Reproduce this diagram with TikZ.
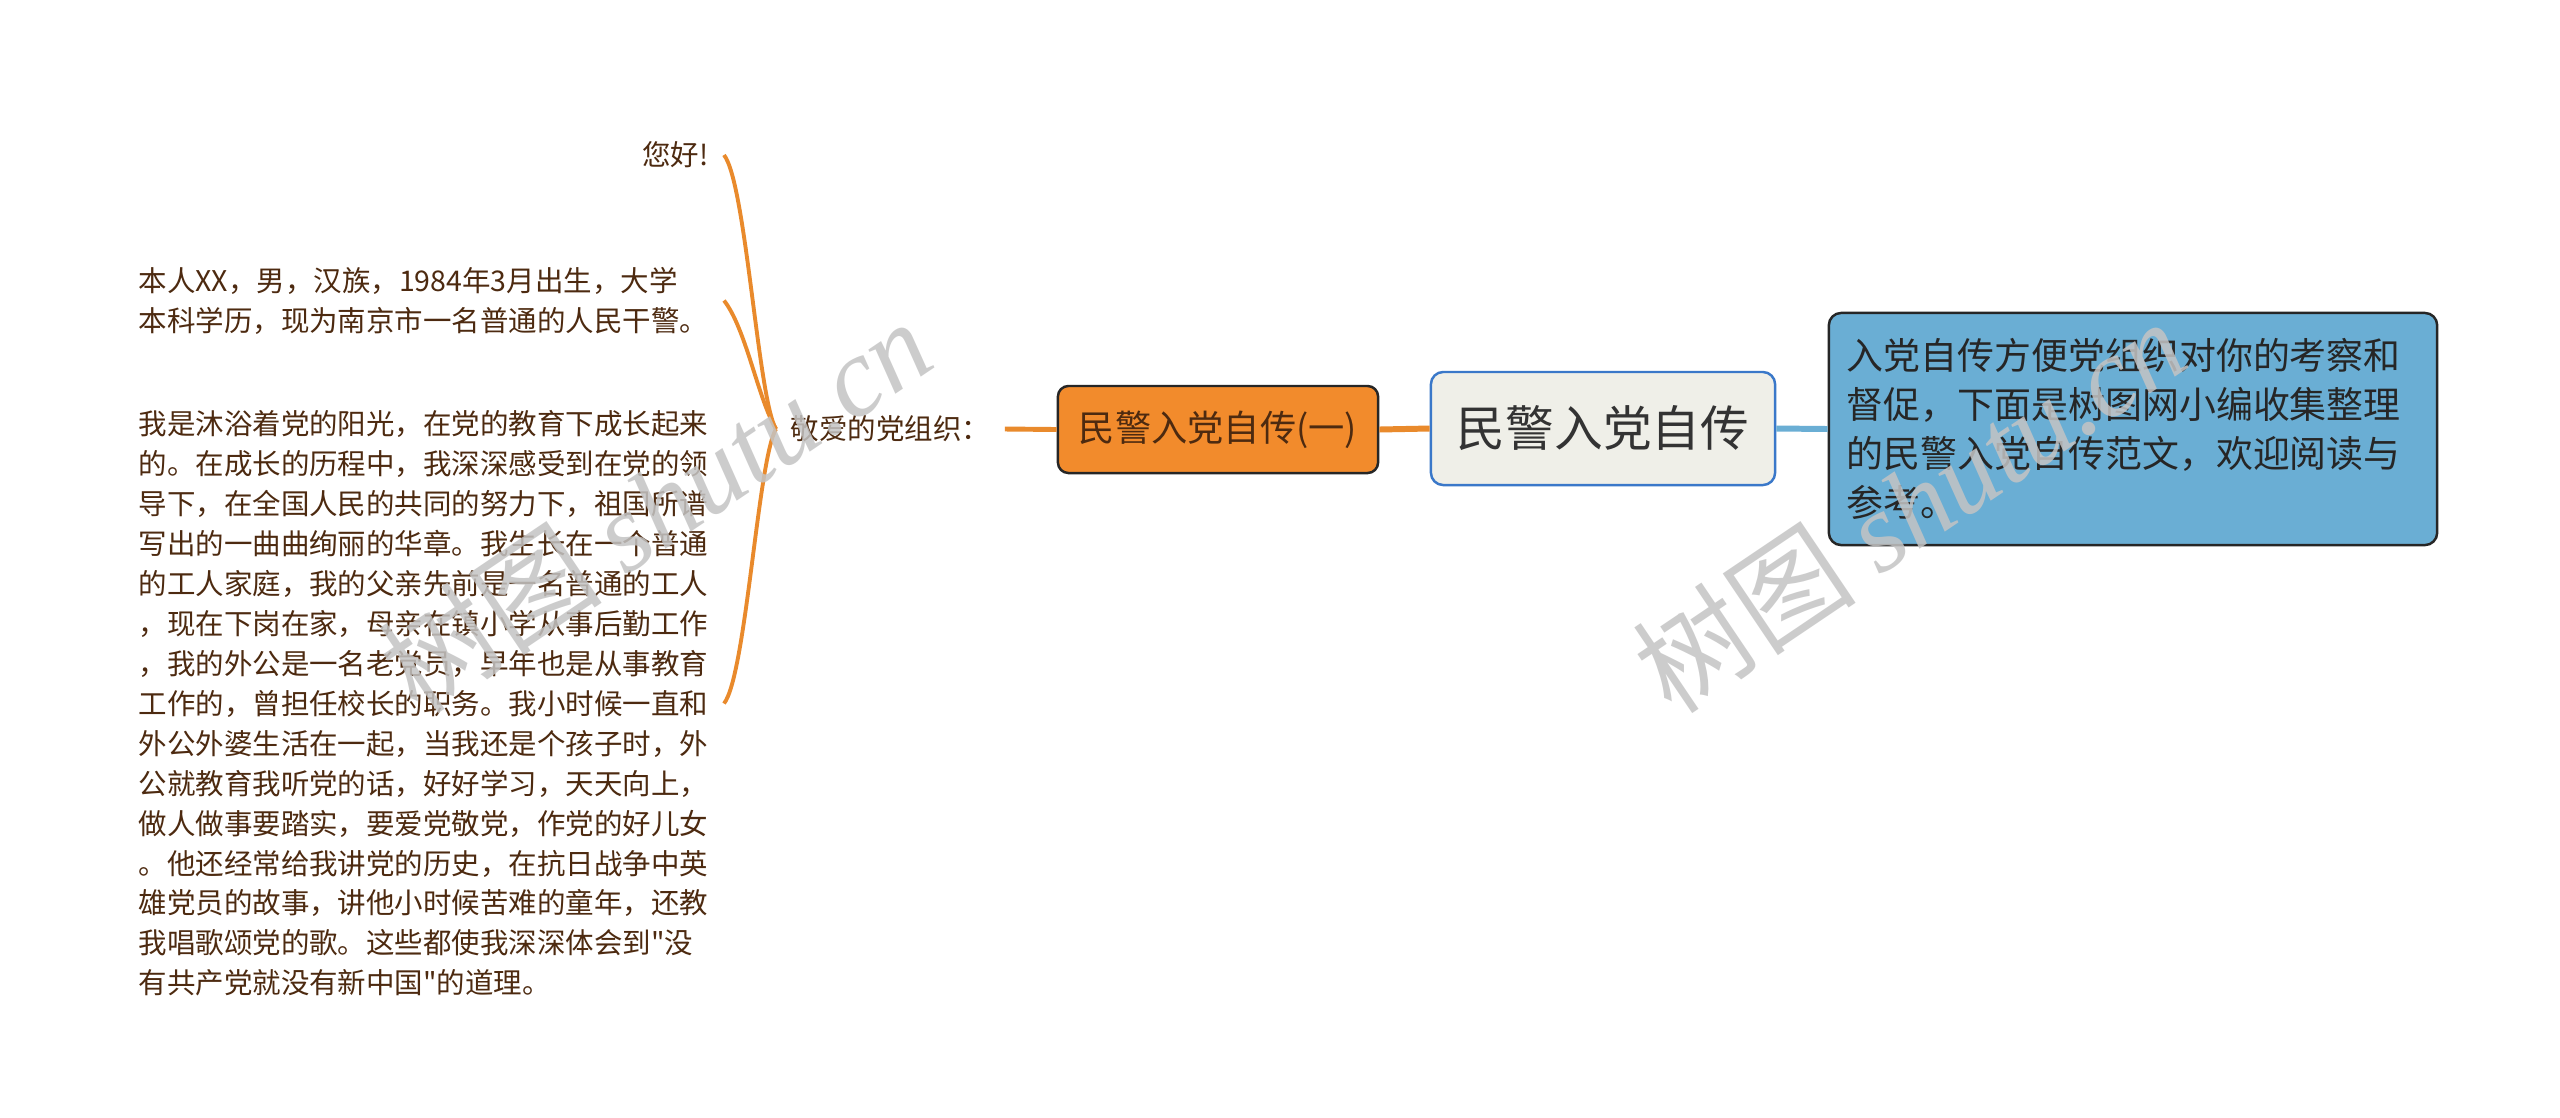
\documentclass[tikz,border=0pt]{standalone}
\usepackage{fontspec}
\newfontfamily\cjk{Noto Sans CJK SC}
\newfontfamily\wmserif{Liberation Serif}
\definecolor{branchorange}{HTML}{E98A2C}
\definecolor{subfill}{HTML}{F28B2C}
\definecolor{leafbrown}{HTML}{4D2A10}
\definecolor{rootfill}{HTML}{EFEFE8}
\definecolor{rootline}{HTML}{3A78C9}
\definecolor{notefill}{HTML}{6AAED4}
\definecolor{wmgray}{HTML}{C4C4C4}

\begin{document}
\begin{tikzpicture}[x=0.01cm, y=-0.01cm,
  leaf/.style={text=leafbrown, inner xsep=0.15cm, inner ysep=0pt, align=left,
    font=\cjk\fontsize{8.1pt}{11.35pt}\selectfont},
  branch/.style={draw=branchorange, line width=1.1pt},
  subtopic/.style={draw=black!85, fill=subfill, line width=0.7pt, rounded corners=3pt,
    text=leafbrown, minimum width=3.2cm, minimum height=0.87cm,
    font=\cjk\fontsize{10.3pt}{12pt}\selectfont},
  roottopic/.style={draw=rootline, fill=rootfill, line width=0.7pt, rounded corners=3.5pt,
    text=black!80, minimum width=3.44cm, minimum height=1.13cm,
    font=\cjk\fontsize{13.85pt}{16pt}\selectfont},
  notebox/.style={draw=black!85, fill=notefill, line width=0.7pt, rounded corners=3.5pt,
    text=black!85, text width=5.72cm, inner xsep=0.18cm, align=left,
    minimum height=2.32cm, font=\cjk\fontsize{10.5pt}{13.9pt}\selectfont},
  watermark/.style={text=wmgray, opacity=0.85, rotate=34, font=\fontsize{32pt}{35pt}\selectfont}]
  % page
  \useasboundingbox[fill=white] (0,0) rectangle (2560,1117);

  % left leaves
  \node[leaf, anchor=east] (hello) at (724,155) {您好!};
  \node[leaf, anchor=east] (intro) at (724,300.5) {本人XX，男，汉族，1984年3月出生，大学\\本科学历，现为南京市一名普通的人民干警。};
  \node[leaf, anchor=east] (story) at (724,703.5) {我是沐浴着党的阳光，在党的教育下成长起来\\的。在成长的历程中，我深深感受到在党的领\\导下，在全国人民的共同的努力下，祖国所谱\\写出的一曲曲绚丽的华章。我生长在一个普通\\的工人家庭，我的父亲先前是一名普通的工人\\，现在下岗在家，母亲在镇小学从事后勤工作\\，我的外公是一名老党员，早年也是从事教育\\工作的，曾担任校长的职务。我小时候一直和\\外公外婆生活在一起，当我还是个孩子时，外\\公就教育我听党的话，好好学习，天天向上，\\做人做事要踏实，要爱党敬党，作党的好儿女\\。他还经常给我讲党的历史，在抗日战争中英\\雄党员的故事，讲他小时候苦难的童年，还教\\我唱歌颂党的歌。这些都使我深深体会到"没\\有共产党就没有新中国"的道理。};

  % branch topics
  \node[leaf, anchor=west, inner xsep=0.14cm] (org) at (776,429) {敬爱的党组织：};
  \node[subtopic] (sub) at (1218,429.5) {民警入党自传(一)};
  \node[roottopic] (root) at (1603,428.5) {民警入党自传};
  \node[notebox] (note) at (2133,429) {入党自传方便党组织对你的考察和\\督促，下面是树图网小编收集整理\\的民警入党自传范文，欢迎阅读与\\参考。};

  % connectors
  \foreach \leafname/\dir in {hello/-1, intro/-1, story/1} {
    \draw[branch] (org.west) .. controls +(-18,30*\dir) and +(22,-28*\dir) .. (\leafname.east);
  }
  \draw[branch, line width=1.4pt] (org.east) -- (sub.west);
  \draw[draw=branchorange, line width=1.7pt] (sub.east) -- (root.west);
  \draw[draw=notefill, line width=1.7pt] (root.east) -- (note.west);

  % watermarks
  \node[watermark] (wmleft) at (655,505) {\cjk 树图 \wmserif\itshape shutu.cn};
  \node[watermark] (wmright) at (1909,505) {\cjk 树图 \wmserif\itshape shutu.cn};
\end{tikzpicture}
\end{document}
